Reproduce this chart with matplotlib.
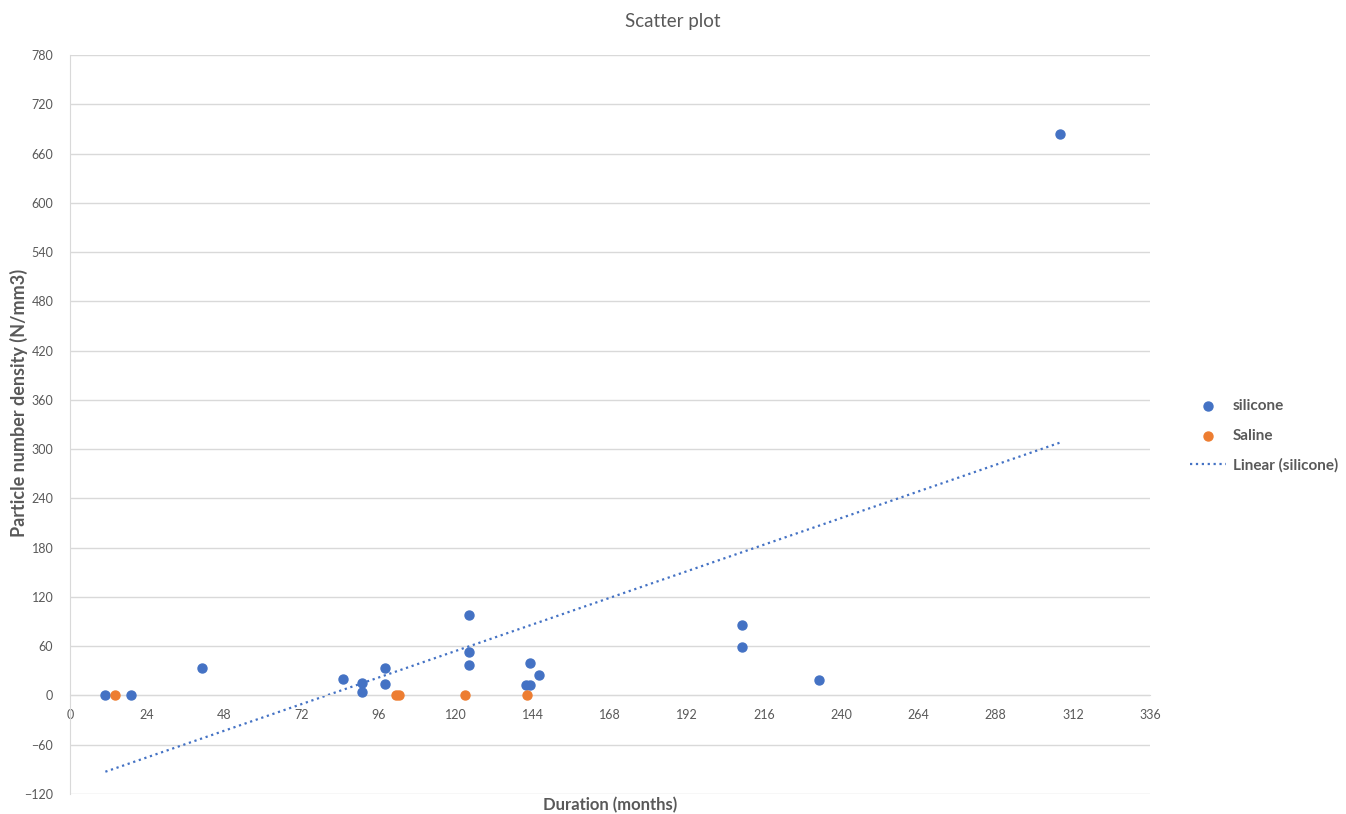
import numpy as np
import matplotlib.pyplot as plt

plt.rcParams['font.family'] = ['Lato', 'DejaVu Sans']

# silicone data (duration months, particle number density)
silicone_x = [11, 19, 41, 85, 91, 91, 98, 98, 124, 124, 124, 143, 142, 143, 146, 209, 209, 233, 308]
silicone_y = [0, 0, 34, 20, 14.6, 3.7, 34, 13.8, 97.5, 53.2, 37.4, 39.8, 12.6, 12.6, 24.8, 85.7, 58.9, 18.3, 684]

# saline data
saline_x = [14, 101.4, 102.3, 123, 142.2]
saline_y = [0, 0, 0, 0, 0]

x_ticks = list(range(0, 337, 24))
y_ticks = list(range(-120, 781, 60))

blue = '#4472C4'
orange = '#ED7D31'
grey_text = '#595959'

fig = plt.figure(figsize=(13.46, 8.14), dpi=100)
ax = fig.add_axes([70 / 1346, 1 - 794 / 814, 1080 / 1346, 739 / 814])

# gridlines
ax.set_yticks(y_ticks)
ax.yaxis.grid(True, color='#d9d9d9', linewidth=1)
ax.set_axisbelow(True)

ax.scatter(silicone_x, silicone_y, s=42, color=blue, label='silicone', zorder=3)
ax.scatter(saline_x, saline_y, s=42, color=orange, label='Saline', zorder=3)

# linear trendline for silicone
coef = np.polyfit(silicone_x, silicone_y, 1)
tx = np.array([min(silicone_x), max(silicone_x)])
ax.plot(tx, np.polyval(coef, tx), linestyle=':', color=blue, linewidth=1.6,
        label='Linear (silicone)', zorder=2)

ax.set_xlim(0, 336)
ax.set_ylim(-120, 780)
ax.set_xticks(x_ticks)

for s in ['top', 'right']:
    ax.spines[s].set_visible(False)
ax.spines['left'].set_color('#d9d9d9')
ax.spines['bottom'].set_color('#d9d9d9')
ax.spines['bottom'].set_position(('data', 0))
ax.tick_params(length=0, labelsize=9, labelcolor=grey_text)
ax.tick_params(axis='x', pad=10)
ax.tick_params(axis='y', pad=12)

fig.text(0.5, 1 - 22 / 814, 'Scatter plot', ha='center', va='center',
         fontsize=13.5, color=grey_text)
fig.text(610 / 1346, 1 - 805 / 814, 'Duration (months)', ha='center', va='center',
         fontsize=12, fontweight='bold', color=grey_text)
fig.text(19 / 1346, 1 - 403 / 814, 'Particle number density (N/mm3)', ha='center',
         va='center', rotation=90, fontsize=13, fontweight='bold', color=grey_text)

leg = ax.legend(loc='center left', bbox_to_anchor=(1176 / 1346, 1 - 436 / 814),
                bbox_transform=fig.transFigure, frameon=False, fontsize=11,
                labelspacing=1.0, handlelength=2.4, handletextpad=0.4)
for t in leg.get_texts():
    t.set_fontweight('bold')
    t.set_color(grey_text)

fig.savefig('out.png', dpi=100)
